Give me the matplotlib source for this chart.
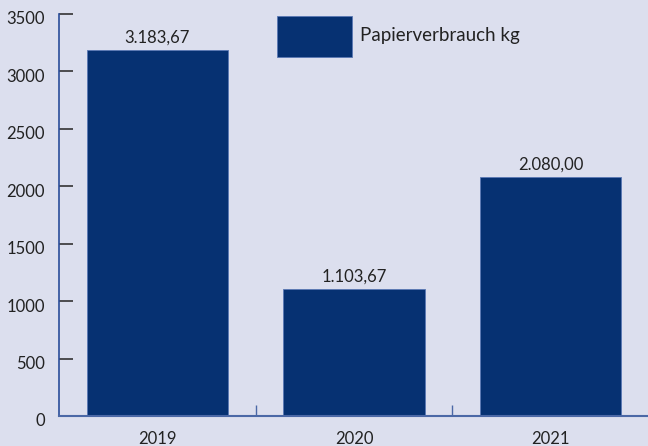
import matplotlib
matplotlib.use("Agg")
import matplotlib.pyplot as plt
import matplotlib.transforms as mtransforms
from matplotlib.patches import Rectangle

years = ["2019", "2020", "2021"]
papier_kg = [3183.67, 1103.67, 2080.00]
bar_labels = ["3.183,67", "1.103,67", "2.080,00"]
y_ticks = [0, 500, 1000, 1500, 2000, 2500, 3000, 3500]
legend_label = "Papierverbrauch kg"

bg = "#dcdfee"
navy = "#063172"
axis_blue = "#4b68a6"
txt = "#222222"

plt.rcParams["font.family"] = ["Lato", "DejaVu Sans"]

W, H = 648, 446
fig = plt.figure(figsize=(W / 100, H / 100), dpi=100, facecolor=bg)
ax = fig.add_axes([59 / W, 30 / H, 590 / W, 402 / H])
ax.set_facecolor(bg)

x = range(len(years))
bars = ax.bar(x, papier_kg, width=0.72, color=navy, edgecolor="#5a78b4", linewidth=0.6, zorder=2)
for b, lab in zip(bars, bar_labels):
    ax.annotate(lab, (b.get_x() + b.get_width() / 2, b.get_height()),
                xytext=(0, 3.5), textcoords="offset points", ha="center", va="bottom",
                fontsize=12, color=txt)

ax.set_xlim(-0.5, 2.5)
ax.set_ylim(0, 3500)
ax.set_yticks(y_ticks)
ax.set_yticklabels([str(v) for v in y_ticks], fontsize=12, color=txt)
ax.tick_params(axis="y", direction="in", length=10, width=1.2, color="#333333", pad=10)
shift = mtransforms.ScaledTranslation(0, -4 / 100, fig.dpi_scale_trans)
for t in ax.get_yticklabels():
    t.set_transform(t.get_transform() + shift)

# separators between categories
ax.set_xticks([0.5, 1.5], minor=True)
ax.set_xticks(list(x))
ax.set_xticklabels(years, fontsize=12, color=txt)
ax.tick_params(axis="x", which="major", length=0, pad=10.5)
ax.tick_params(axis="x", which="minor", direction="in", length=8, width=1, color=axis_blue)

for s in ["top", "right"]:
    ax.spines[s].set_visible(False)
ax.spines["left"].set_color("#2a4d99")
ax.spines["left"].set_linewidth(1.2)
ax.spines["bottom"].set_color(axis_blue)
ax.spines["bottom"].set_linewidth(1.5)

# legend drawn by hand (big swatch)
fig.patches.append(Rectangle((277 / W, 1 - 57 / H), 75 / W, 41 / H, transform=fig.transFigure,
                             facecolor=navy, edgecolor="#5a78b4", linewidth=0.6))
fig.text(360 / W, 1 - 36 / H, legend_label, fontsize=13.5, color=txt, ha="left", va="center")

fig.savefig("out.png", dpi=100, facecolor=bg)
